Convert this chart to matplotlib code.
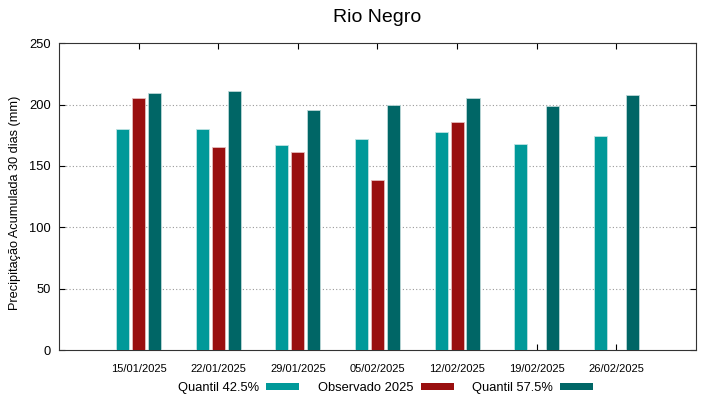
import numpy as np
import matplotlib.pyplot as plt
from matplotlib.patches import Patch

plt.rcParams['font.family'] = ['Liberation Sans', 'DejaVu Sans']

datas = ["15/01/2025", "22/01/2025", "29/01/2025", "05/02/2025",
         "12/02/2025", "19/02/2025", "26/02/2025"]
q425 = [180, 180.5, 167, 172, 178, 167.5, 174]
obs2025 = [205, 165.5, 161, 139, 185.5, np.nan, np.nan]
q575 = [209, 211, 195.5, 200, 205, 199, 207.5]

cor_q425 = "#009999"
cor_obs = "#990f0f"
cor_q575 = "#006666"

fig = plt.figure(figsize=(7.19, 3.99), dpi=100)
ax = fig.add_axes([0.082, 0.122, 0.886, 0.770])

x = np.arange(1, len(datas) + 1)
w = 0.165
ax.bar(x - 0.2, q425, w, color=cor_q425, edgecolor="#bfe3e3", linewidth=0.6, zorder=3)
ax.bar(x, obs2025, w, color=cor_obs, edgecolor="#e5bcbc", linewidth=0.6, zorder=3)
ax.bar(x + 0.2, q575, w, color=cor_q575, edgecolor="#bcd8d8", linewidth=0.6, zorder=3)

ax.set_xlim(0, 8)
ax.set_ylim(0, 250)
ax.set_xticks(x)
ax.set_xticklabels(datas, fontsize=8)
ax.set_yticks([0, 50, 100, 150, 200, 250])
ax.tick_params(axis="y", labelsize=9.3, direction="in", right=True, length=4, pad=6)
ax.tick_params(axis="x", direction="in", top=True, length=4, pad=10)
for yv in [50, 100, 150, 200]:
    ax.axhline(yv, color="#999999", linestyle=(0, (1, 2)), linewidth=0.8, zorder=1)
for s in ax.spines.values():
    s.set_linewidth(0.8)
    s.set_color("#333333")

ax.set_ylabel("Precipitação Acumulada 30 dias (mm)", fontsize=9.2, labelpad=8)
ax.yaxis.set_label_coords(-0.06, 0.48)
ax.set_title("Rio Negro", fontsize=14, pad=15)

handles = [Patch(facecolor=cor_q425), Patch(facecolor=cor_obs), Patch(facecolor=cor_q575)]
labels = ["Quantil 42.5%", "Observado 2025", "Quantil 57.5%"]
ax.legend(handles, labels, ncol=3, loc="center", bbox_to_anchor=(0.513, -0.122),
          frameon=False, markerfirst=False, fontsize=9.3, handlelength=2.55,
          handleheight=0.45, columnspacing=1.45, handletextpad=0.55)

fig.savefig("out.png", dpi=100)
